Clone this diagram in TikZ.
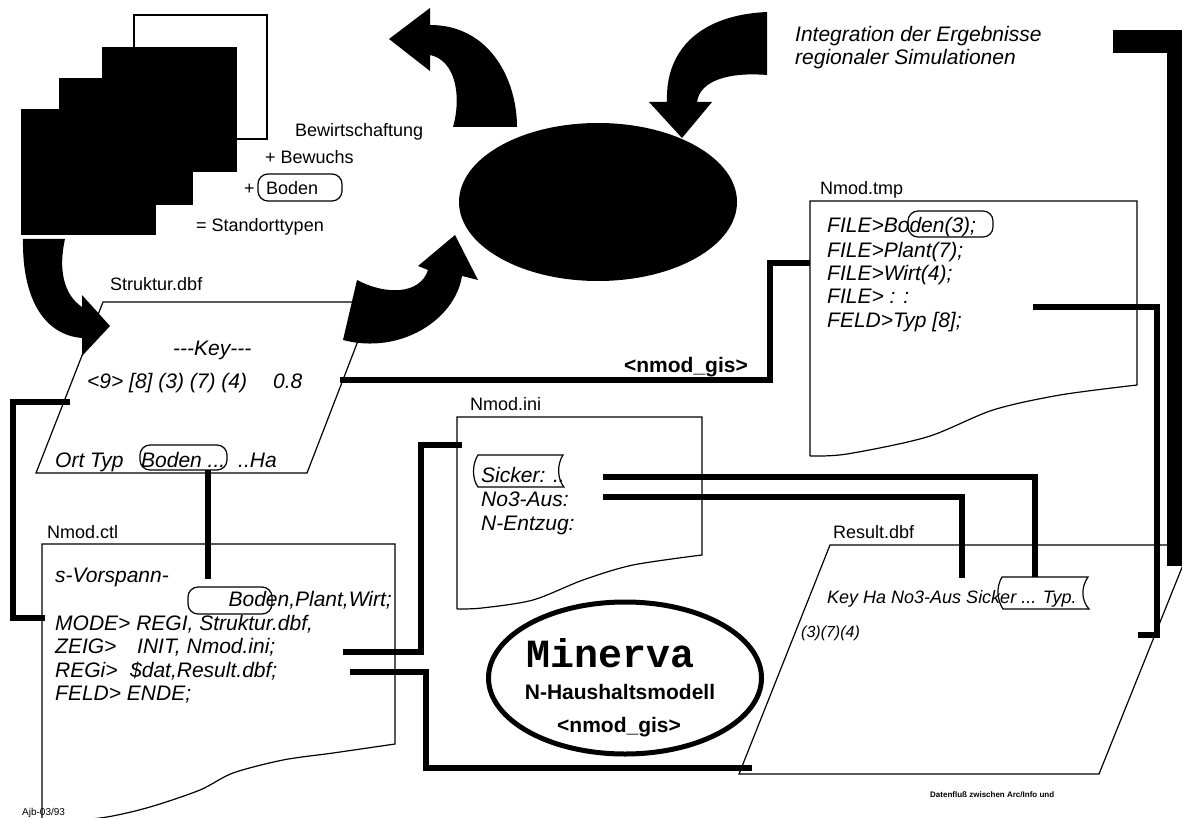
\documentclass[tikz,border=0pt]{standalone}
\usepackage{fontspec}
\setmainfont{Liberation Sans}
\newfontfamily\monofam{Liberation Mono}
\usetikzlibrary{shapes.geometric}
\begin{document}
\begin{tikzpicture}[x=1pt,y=-1pt,
  lbl/.style={inner sep=0pt, anchor=base west, font=\fontsize{18}{20}\selectfont},
  itx/.style={inner sep=0pt, anchor=base west, font=\fontsize{21}{24}\selectfont\itshape},
  its/.style={inner sep=0pt, anchor=base west, font=\fontsize{18}{20}\selectfont\itshape},
  bld/.style={inner sep=0pt, font=\fontsize{21}{24}\selectfont\bfseries},
  outline/.style={draw, line width=1.2pt},
  conn/.style={draw, line width=5.5pt, line join=miter},
  tagbox/.style={draw, line width=1.2pt, rounded corners=10pt},
  tape/.style={draw, line width=1.2pt},
  fatarrow/.style={fill=black}]
\useasboundingbox (0,0) rectangle (1182,818);

% ---------- documents ----------
\draw[outline] (103,302) -- (373,302) -- (307,473) -- (36,473) -- cycle;
\draw[outline] (830,545) -- (1191,545) -- (1099,774) -- (739,774) -- cycle;
\draw[outline] (42,822) -- (42,544) -- (395,544) -- (395,744) -- plot[smooth] coordinates {(395,744) (333,753) (283,760) (233,773) (200,790) (150,807) (107,817) (60,822)};
\draw[outline] (810,456) -- (810,201) -- (1137,201) -- (1137,385) -- plot[smooth] coordinates {(1137,385) (1060,395) (993,410) (927,437) (847,454) (810,456)};
\draw[outline] (457,609) -- (457,417) -- (702,417) -- (702,555) -- plot[smooth] coordinates {(702,555) (633,565) (583,580) (533,600) (482,608) (457,609)};

% ---------- texts ----------
\node[lbl] (bew) at (295,137) {Bewirtschaftung};
\node[lbl] (bewu) at (265,164) {+ Bewuchs};
\node[lbl] (plus) at (244,195) {+};
\node[lbl] (bod) at (266,195) {Boden};
\node[lbl] (stand) at (196,232) {= Standorttypen};
\node[lbl] (struk) at (110,290) {Struktur.dbf};
\node[itx] (key) at (173,355) {-{}-{}-Key-{}-{}-};
\node[itx] (keyrow) at (87,388) {<9> [8] (3) (7) (4)};
\node[itx] (keyval) at (273,388) {0.8};
\node[itx] (ort) at (55,467) {Ort Typ};
\node[itx] (ortb) at (141,467) {Boden ...};
\node[itx] (orth) at (238,467) {..Ha};

\node[lbl] (ctl) at (47,538) {Nmod.ctl};
\node[itx] (c1) at (55,582) {s-Vorspann-};
\node[itx, anchor=base east] (c2) at (392,606) {Boden,Plant,Wirt;};
\node[itx] (c3) at (55,630) {MODE> REGI, Struktur.dbf,};
\node[itx] (c4) at (55,653) {ZEIG>};
\node[itx] (c4b) at (137,653) {INIT, Nmod.ini;};
\node[itx] (c5) at (55,677) {REGi>};
\node[itx] (c5b) at (130,677) {\$dat,Result.dbf;};
\node[itx] (c6) at (55,700) {FELD> ENDE;};

\node[lbl] (ini) at (470,410) {Nmod.ini};
\node[itx] (i1) at (481,482) {Sicker: ..};
\node[itx] (i2) at (481,506) {No3-Aus:};
\node[itx] (i3) at (481,530) {N-Entzug:};

\node[lbl] (tmp) at (820,195) {Nmod.tmp};
\node[itx] (t1) at (827,233) {FILE>Boden(3);};
\node[itx] (t2) at (827,257) {FILE>Plant(7);};
\node[itx] (t3) at (827,280) {FILE>Wirt(4);};
\node[itx] (t4) at (827,303) {FILE> : :};
\node[itx] (t5) at (827,327) {FELD>Typ [8];};

\node[itx] (int1) at (795,42) {Integration der Ergebnisse};
\node[itx] (int2) at (795,65) {regionaler Simulationen};

\node[bld, anchor=base east] (gis) at (748,372) {<nmod\_gis>};

\node[lbl] (res) at (833,538) {Result.dbf};
\node[its] (r1) at (827,603) {Key Ha No3-Aus Sicker ... Typ.};
\node[inner sep=0pt, anchor=base west, font=\fontsize{16}{18}\selectfont\itshape] (r2) at (801,637) {(3)(7)(4)};

\node[inner sep=0pt, anchor=base west, font=\fontsize{10}{12}\selectfont] (ajb) at (22,815) {Ajb-03/93};
\node[inner sep=0pt, anchor=base west, font=\fontsize{8}{10}\selectfont\bfseries] (daten) at (930,797) {Datenfluß zwischen Arc/Info und};

% ---------- Minerva ----------
\node[ellipse, draw, line width=5pt, minimum width=273pt, minimum height=152pt, inner sep=0pt] (minerva) at (625,678) {};
\node[inner sep=0pt, anchor=base, font=\fontsize{40}{44}\selectfont\monofam\bfseries] (mtitle) at (611,667) {Minerva};
\node[bld, anchor=base] (msub) at (620,699) {N-Haushaltsmodell};
\node[bld, anchor=base] (mgis) at (619,732) {<nmod\_gis>};

% ---------- tags ----------
\draw[tagbox] (258,174) rectangle (342,201);
\draw[tagbox] (140,445) rectangle (227,470);
\draw[tagbox] (188,587) rectangle (272,614);
\draw[tagbox] (908,211) rectangle (993,237);
\draw[tape] (478,455) -- (563,455) .. controls (557,464) and (557,479) .. (564,487) -- (478,487) .. controls (472,479) and (472,464) .. (478,455) -- cycle;
\draw[tape] (1002,577) -- (1088,577) .. controls (1081,587) and (1081,600) .. (1089,609) -- (1003,609) .. controls (997,600) and (996,587) .. (1002,577) -- cycle;

% ---------- stacked maps ----------
\draw[outline, fill=white] (134,15) rectangle (267,139);
\fill (102,47) rectangle (237,172);
\fill (59,78) rectangle (193,205);
\fill (21,109) rectangle (156,235);

% ---------- black ellipse and fat arrows ----------
\fill (598,202) ellipse [x radius=139pt, y radius=79pt];
\fill[fatarrow] (23,239) .. controls (22,300) and (45,335) .. (82,338) -- (82,356) -- (110,326) -- (82,295) -- (82,307) .. controls (64,295) and (58,270) .. (65,239) -- cycle;
\fill[fatarrow] (453,127) .. controls (462,95) and (455,60) .. (430,55) -- (430,71) -- (389,39) -- (430,8) -- (430,25) .. controls (490,25) and (517,80) .. (517,127) -- cycle;
\fill[fatarrow] (767,12) .. controls (700,15) and (665,50) .. (667,102) -- (649,102) -- (682,138) -- (712,102) -- (697,102) .. controls (700,80) and (730,72) .. (767,75) -- cycle;
\fill[fatarrow] (357,280) .. controls (385,295) and (420,295) .. (428,270) -- (418,266) -- (455,235) -- (478,280) -- (462,276) .. controls (455,320) and (400,355) .. (343,340) -- cycle;

% ---------- connectors ----------
\coordinate (gA) at (340,380); \coordinate (gB) at (770,380); \coordinate (gC) at (770,263); \coordinate (gD) at (810,263);
\draw[conn] (gA) -- (gB) -- (gC) -- (gD);
\coordinate (sA) at (70,402); \coordinate (sB) at (13,402); \coordinate (sC) at (13,618); \coordinate (sD) at (45,618);
\draw[conn] (sA) -- (sB) -- (sC) -- (sD);
\coordinate (bA) at (208,470); \coordinate (bB) at (208,579);
\draw[conn] (bA) -- (bB);
\coordinate (zA) at (343,652); \coordinate (zB) at (421,652); \coordinate (zC) at (421,445); \coordinate (zD) at (462,445);
\draw[conn] (zA) -- (zB) -- (zC) -- (zD);
\coordinate (rA) at (350,672); \coordinate (rB) at (426,672); \coordinate (rC) at (426,768); \coordinate (rD) at (752,768);
\draw[conn] (rA) -- (rB) -- (rC) -- (rD);
\coordinate (kA) at (603,477); \coordinate (kB) at (1035,477); \coordinate (kC) at (1035,577);
\draw[conn] (kA) -- (kB) -- (kC);
\coordinate (nA) at (603,497); \coordinate (nB) at (962,497); \coordinate (nC) at (962,578);
\draw[conn] (nA) -- (nB) -- (nC);
\coordinate (fA) at (1033,307); \coordinate (fB) at (1157,307); \coordinate (fC) at (1157,635); \coordinate (fD) at (1138,635);
\draw[conn] (fA) -- (fB) -- (fC) -- (fD);

% ---------- right bracket ----------
\fill (1113,30) rectangle (1182,53);
\fill (1167,30) rectangle (1182,566);
\end{tikzpicture}
\end{document}
